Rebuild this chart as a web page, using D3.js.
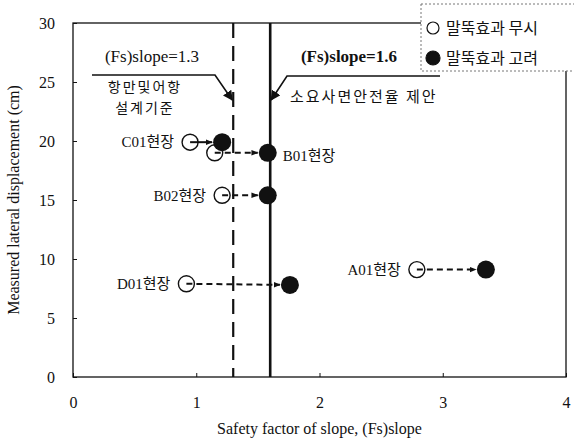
<!DOCTYPE html>
<html>
<head>
<meta charset="utf-8">
<script src="https://cdn.jsdelivr.net/npm/d3@7"></script>
<style>
  html, body { margin: 0; padding: 0; background: #fff; }
  svg { display: block; }
  text { font-family: "Liberation Serif", "Noto Sans CJK KR", serif; fill: #111; }
</style>
</head>
<body>
<svg id="chart" width="574" height="439"></svg>
<script>
// Sites: safety factor ignoring pile effect (open) vs. considering it (filled)
const sites = ["C01현장", "B01현장", "B02현장", "D01현장", "A01현장"];
const fsIgnore = [0.95, 1.15, 1.21, 0.92, 2.79];
const fsConsider = [1.21, 1.58, 1.58, 1.76, 3.35];
const dispIgnore = [19.9, 19.0, 15.4, 7.9, 9.1];
const dispConsider = [19.9, 19.0, 15.4, 7.8, 9.1];
// label side relative to the point: "left" of open circle or "right" of filled circle
const labelSide = ["left", "right", "left", "left", "left"];

const xTicks = [0, 1, 2, 3, 4];
const yTicks = [0, 5, 10, 15, 20, 25, 30];
const designFs = [1.3, 1.6];
const designLabels = ["(Fs)slope=1.3", "(Fs)slope=1.6"];
const legendLabels = ["말뚝효과 무시", "말뚝효과 고려"];

const svg = d3.select("#chart");
const x = d3.scaleLinear().domain([0, 4]).range([73, 566]);
const y = d3.scaleLinear().domain([0, 30]).range([377, 23]);

const defs = svg.append("defs");
defs.append("marker").attr("id", "arrow")
  .attr("viewBox", "0 0 10 10").attr("refX", 9).attr("refY", 5)
  .attr("markerWidth", 7).attr("markerHeight", 7).attr("orient", "auto")
  .attr("markerUnits", "userSpaceOnUse")
  .append("path").attr("d", "M0,1 L10,5 L0,9 Z").attr("fill", "#111");
defs.append("marker").attr("id", "arrowBig")
  .attr("viewBox", "0 0 10 10").attr("refX", 9).attr("refY", 5)
  .attr("markerWidth", 10).attr("markerHeight", 10).attr("orient", "auto")
  .attr("markerUnits", "userSpaceOnUse")
  .append("path").attr("d", "M0,0 L10,5 L0,10 Z").attr("fill", "#111");

// frame
svg.append("rect").attr("x", x(0)).attr("y", y(30))
  .attr("width", x(4) - x(0)).attr("height", y(0) - y(30))
  .attr("fill", "none").attr("stroke", "#111").attr("stroke-width", 1.3);

// axes with inward ticks
const xAxis = svg.append("g").attr("transform", `translate(0,${y(0)})`)
  .call(d3.axisBottom(x).tickValues(xTicks).tickFormat(d3.format("d")).tickSizeInner(-4).tickSizeOuter(0).tickPadding(20));
const yAxis = svg.append("g").attr("transform", `translate(${x(0)},0)`)
  .call(d3.axisLeft(y).tickValues(yTicks).tickFormat(d3.format("d")).tickSizeInner(-4).tickSizeOuter(0).tickPadding(18));
[xAxis, yAxis].forEach(g => {
  g.select(".domain").remove();
  g.selectAll("line").attr("stroke", "#111");
  g.selectAll("text").style("font-family", "Liberation Serif").style("font-size", "16px").attr("fill", "#111");
});

// axis titles
svg.append("text").attr("x", (x(0) + x(4)) / 2).attr("y", 434)
  .attr("text-anchor", "middle").style("font-size", "16px")
  .text("Safety factor of slope, (Fs)slope");
svg.append("text").attr("transform", `translate(19,${(y(0) + y(30)) / 2}) rotate(-90)`)
  .attr("text-anchor", "middle").style("font-size", "16px")
  .text("Measured lateral displacement (cm)");

// design safety factor lines
svg.append("line").attr("x1", x(designFs[0])).attr("x2", x(designFs[0]))
  .attr("y1", y(30)).attr("y2", y(0))
  .attr("stroke", "#111").attr("stroke-width", 2.2).attr("stroke-dasharray", "15,8");
svg.append("line").attr("x1", x(designFs[1])).attr("x2", x(designFs[1]))
  .attr("y1", y(30)).attr("y2", y(0))
  .attr("stroke", "#111").attr("stroke-width", 2.6);

// annotation for Fs = 1.3
svg.append("text").attr("x", 152).attr("y", 62).attr("text-anchor", "middle")
  .style("font-size", "17px").text(designLabels[0]);
svg.append("path").attr("d", `M92,75 L215,75 L${x(designFs[0]) - 1},100`)
  .attr("fill", "none").attr("stroke", "#111").attr("stroke-width", 1.6)
  .attr("marker-end", "url(#arrowBig)");
svg.append("text").attr("x", 145).attr("y", 92).attr("text-anchor", "middle")
  .style("font-size", "14px").style("letter-spacing", "2px").style("font-family", "Noto Sans CJK KR").text("항만및어항");
svg.append("text").attr("x", 145).attr("y", 113).attr("text-anchor", "middle")
  .style("font-size", "14px").style("letter-spacing", "2px").style("font-family", "Noto Sans CJK KR").text("설계기준");

// annotation for Fs = 1.6
svg.append("text").attr("x", 349).attr("y", 62).attr("text-anchor", "middle")
  .style("font-size", "17px").style("font-weight", "bold").text(designLabels[1]);
svg.append("path").attr("d", `M440,76 L287,76 L${x(designFs[1]) + 1},100`)
  .attr("fill", "none").attr("stroke", "#111").attr("stroke-width", 1.6)
  .attr("marker-end", "url(#arrowBig)");
svg.append("text").attr("x", 290).attr("y", 102).attr("text-anchor", "start")
  .style("font-size", "15px").style("letter-spacing", "2px").style("font-family", "Noto Sans CJK KR").text("소요사면안전율 제안");

// points and arrows
const rOpen = 8, rFill = 9;
const data = sites.map((s, i) => ({
  site: s, x0: fsIgnore[i], y0: dispIgnore[i], x1: fsConsider[i], y1: dispConsider[i], side: labelSide[i]
}));

const g = svg.append("g");
data.forEach((d, i) => {
  const ax = x(d.x0), ay = y(d.y0), bx = x(d.x1), by = y(d.y1);
  const len = Math.hypot(bx - ax, by - ay);
  const ux = (bx - ax) / len, uy = (by - ay) / len;
  g.append("line")
    .attr("x1", ax).attr("y1", ay)
    .attr("x2", bx - ux * (rFill + 1)).attr("y2", by - uy * (rFill + 1))
    .attr("stroke", "#111").attr("stroke-width", 2)
    .attr("stroke-dasharray", i === 0 ? null : "6,4")
    .attr("marker-end", "url(#arrow)");
  g.append("circle").attr("cx", ax).attr("cy", ay).attr("r", rOpen)
    .attr("fill", "none").attr("stroke", "#111").attr("stroke-width", 1.4);
  g.append("circle").attr("cx", bx).attr("cy", by).attr("r", rFill).attr("fill", "#111");
  const lbl = g.append("text").attr("dy", "0.35em").style("font-size", "15px");
  if (d.side === "left") {
    lbl.attr("x", ax - rOpen - 8).attr("y", ay).attr("text-anchor", "end");
  } else {
    lbl.attr("x", bx + rFill + 6).attr("y", by + 3).attr("text-anchor", "start");
  }
  lbl.text(d.site);
});

// legend
const lg = svg.append("g");
lg.append("rect").attr("x", 421).attr("y", 4).attr("width", 160).attr("height", 67)
  .attr("fill", "#fff").attr("stroke", "#777").attr("stroke-width", 1).attr("stroke-dasharray", "2,2");
legendLabels.forEach((t, i) => {
  const cy = 28 + i * 30;
  lg.append("circle").attr("cx", 433).attr("cy", cy).attr("r", i === 0 ? 6 : 7)
    .attr("fill", i === 0 ? "none" : "#111").attr("stroke", "#111").attr("stroke-width", 1.2);
  lg.append("text").attr("x", 446).attr("y", cy).attr("dy", "0.35em")
    .style("font-size", "16px").style("font-family", "Noto Sans CJK KR").text(t);
});
</script>
</body>
</html>
